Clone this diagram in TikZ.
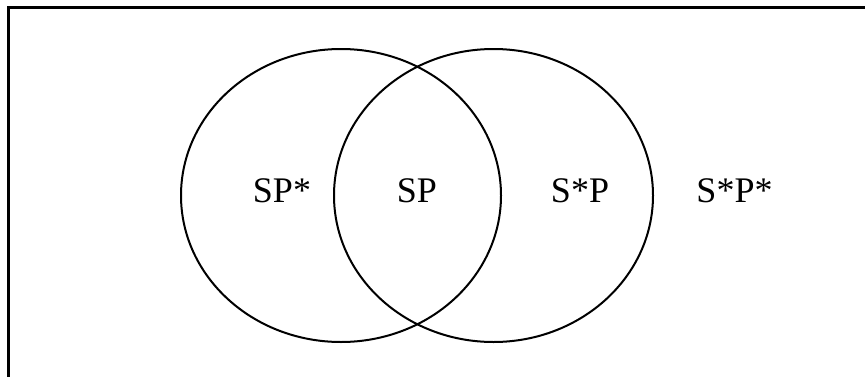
\documentclass[tikz,border=0pt]{standalone}
\usepackage{fontspec}
\setmainfont{Liberation Serif}
\begin{document}
\begin{tikzpicture}[x=1pt,y=1pt,
  venn/.style={draw=black,line width=2pt},
  lbl/.style={inner sep=0pt,anchor=base,font=\fontsize{36}{42}\selectfont}]
\useasboundingbox (0,0) rectangle (865,376);
\draw[line width=2.4pt] (8.5,-5) -- (8.5,368.5) -- (870,368.5);
\draw[venn] (341,180.5) ellipse [x radius=160, y radius=146.5];
\draw[venn] (493.5,180.5) ellipse [x radius=159.5, y radius=146.5];
\node[lbl] (a) at (282,173.5) {SP*};
\node[lbl] (b) at (417,173.5) {SP};
\node[lbl] (c) at (580,173.5) {S*P};
\node[lbl] (d) at (734.5,173.5) {S*P*};
\end{tikzpicture}
\end{document}
